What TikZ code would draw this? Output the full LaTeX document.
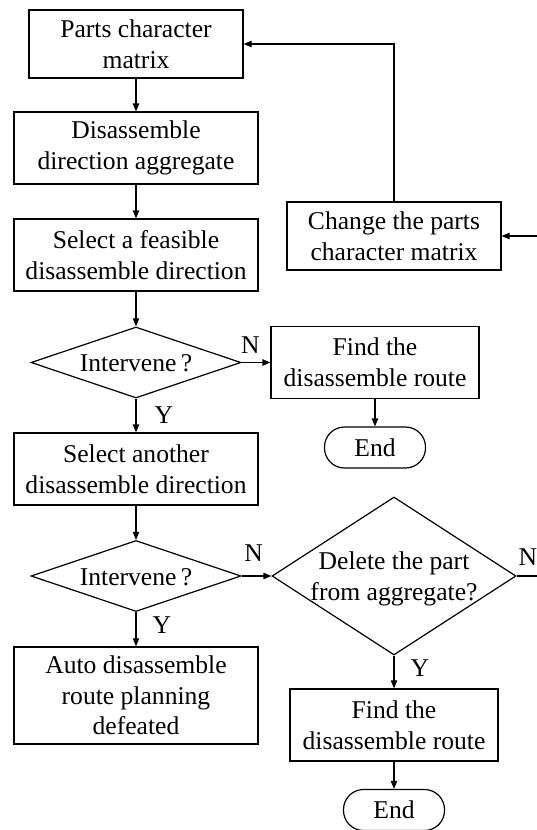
\documentclass[tikz,border=0pt]{standalone}
\usepackage{fontspec}
\setmainfont{Liberation Serif}
\usetikzlibrary{shapes.geometric,arrows.meta}
\newcommand{\decisiontext}[1]{\smash{\raisebox{-.35em}{\makebox[0pt]{\begin{tabular}{@{}c@{}}#1\end{tabular}}}}}
\tikzset{every path/.style={black, line width=0.6pt},
  every node/.style={font=\fontsize{12.8}{15.3}\selectfont},
  box/.style={draw, rectangle, align=center, inner sep=0pt, minimum width=122pt, minimum height=36pt},
  smallbox/.style={box, minimum width=107pt, minimum height=34pt},
  decision/.style={draw, diamond, inner sep=0pt, minimum width=105pt, minimum height=35.5pt},
  term/.style={draw, rectangle, rounded corners=10pt, inner sep=0pt, minimum width=50.5pt, minimum height=20.5pt},
  arr/.style={-{Triangle[length=4pt,width=3.2pt]}},
  yn/.style={inner sep=1pt}}

\begin{document}
\begin{tikzpicture}[x=0.5pt,y=-0.5pt]
        \useasboundingbox (0,0) rectangle (536,830);
        \node[smallbox] (pcm) at (136,44) {Parts character\\matrix};
        \node[box] (dda) at (136,148) {Disassemble\\direction aggregate};
        \node[box] (sfd) at (136,255) {Select a feasible\\disassemble direction};
        \node[smallbox] (cpm) at (394,236) {Change the parts\\character matrix};
        \node[decision] (iv1) at (136,362.5) {\decisiontext{Intervene\,?}};
        \node[box, minimum width=104pt] (fdr1) at (375,362.5) {Find the\\disassemble route};
        \node[term] (end1) at (375,447.5) {End};
        \node[box] (sad) at (136,469) {Select another\\disassemble direction};
        \node[decision] (iv2) at (136,576) {\decisiontext{Intervene\,?}};
        \node[decision, minimum width=122pt, minimum height=79pt] (del) at (394,576) {\decisiontext{Delete the part\\from aggregate?}};
        \node[box, minimum height=48.5pt] (auto) at (136,695.5) {Auto disassemble\\route planning\\defeated};
        \node[box, minimum width=104pt] (fdr2) at (394,725) {Find the\\disassemble route};
        \node[term] (end2) at (394,810) {End};
        \coordinate (rt) at (545,400);

        \draw[arr] (pcm) -- (dda);
        \draw[arr] (dda) -- (sfd);
        \draw[arr] (sfd) -- (iv1);
        \draw[arr] (iv1) -- node[yn, above, pos=0.3, yshift=3pt] {N} (fdr1);
        \draw[arr] (fdr1) -- (end1);
        \draw[arr] (iv1) -- node[yn, right, pos=0.5, xshift=8pt] {Y} (sad);
        \draw[arr] (sad) -- (iv2);
        \draw[arr] (iv2) -- node[yn, above, pos=0.4, yshift=6pt] {N} (del);
        \draw[arr] (iv2) -- node[yn, right, pos=0.37, xshift=7pt] {Y} (auto);
        \draw[arr] (del) -- node[yn, right, pos=0.38, xshift=7pt] {Y} (fdr2);
        \draw[arr] (fdr2) -- (end2);
        \draw[arr] (del.east) -| node[yn, above, pos=0.2, yshift=4pt] {N} (rt) |- (cpm.east);
        \draw[arr] (cpm.north) |- (pcm.east);
\end{tikzpicture}
\end{document}
